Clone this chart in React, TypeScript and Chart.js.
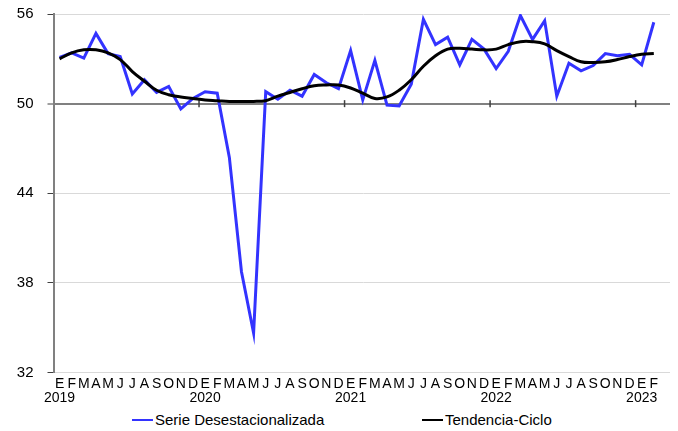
import React, { useEffect, useRef } from "react";
import { Chart, registerables } from "chart.js";

Chart.register(...registerables);

const monthLetters = ["E", "F", "M", "A", "M", "J", "J", "A", "S", "O", "N", "D"];
const years = ["2019", "2020", "2021", "2022", "2023"];
const totalSlots = 51; // 50 months of data + one empty slot at the end

const serieDesestacionalizada = [
  53.1, 53.4, 53.05, 54.7, 53.35, 53.15, 50.65, 51.6, 50.75, 51.15, 49.65, 50.35,
  50.8, 50.7, 46.4, 38.75, 34.65, 50.8, 50.3, 50.9, 50.5, 51.95, 51.4, 51.0,
  53.55, 50.25, 52.9, 49.9, 49.85, 51.3, 55.65, 53.95, 54.45, 52.6, 54.3, 53.65,
  52.35, 53.5, 55.9, 54.3, 55.55, 50.5, 52.7, 52.2, 52.55, 53.35, 53.2, 53.3,
  52.6, 55.45,
];

const tendenciaCiclo = [
  53.0, 53.4, 53.6, 53.6, 53.4, 52.95, 52.15, 51.5, 50.9, 50.6, 50.45, 50.35,
  50.25, 50.2, 50.15, 50.15, 50.15, 50.2, 50.5, 50.75, 51.0, 51.2, 51.25, 51.25,
  51.05, 50.7, 50.35, 50.45, 50.9, 51.6, 52.5, 53.2, 53.65, 53.7, 53.65, 53.6,
  53.65, 53.95, 54.15, 54.15, 54.0, 53.55, 53.15, 52.8, 52.75, 52.8, 52.95, 53.15,
  53.3, 53.35,
];

const yMin = 32;
const yMax = 56;
const yStep = 6;
const axisValue = 50;

const FONT = "'Liberation Sans', Arial, sans-serif";
const BLUE = "#3333ff";

function buildLabels(): string[][] {
  const out: string[][] = [];
  for (let i = 0; i < totalSlots; i++) {
    if (i < serieDesestacionalizada.length) {
      const m = i % 12;
      const y = Math.floor(i / 12);
      out.push([monthLetters[m], m === 0 ? years[y] : ""]);
    } else {
      out.push(["", ""]);
    }
  }
  return out;
}

const yearTicksPlugin = {
  id: "yearTicks",
  beforeDatasetsDraw(chart: any) {
    const xs = chart.scales.x;
    const ys = chart.scales.y;
    const ctx = chart.ctx;
    const y = ys.getPixelForValue(axisValue);
    ctx.save();
    ctx.strokeStyle = "#404040";
    ctx.lineWidth = 1.5;
    for (let i = 12; i < totalSlots; i += 12) {
      const x = (xs.getPixelForValue(i - 1) + xs.getPixelForValue(i)) / 2;
      ctx.beginPath();
      ctx.moveTo(x, y - 3.5);
      ctx.lineTo(x, y + 3.5);
      ctx.stroke();
    }
    ctx.restore();
  },
};

export default function App() {
  const ref = useRef<HTMLCanvasElement | null>(null);

  useEffect(() => {
    if (!ref.current) return;
    const chart = new Chart(ref.current, {
      type: "line",
      data: {
        labels: buildLabels(),
        datasets: [
          {
            label: "Serie Desestacionalizada",
            data: serieDesestacionalizada,
            borderColor: BLUE,
            backgroundColor: BLUE,
            borderWidth: 3,
            pointRadius: 0,
            tension: 0,
            order: 1,
          },
          {
            label: "Tendencia-Ciclo",
            data: tendenciaCiclo,
            borderColor: "#000000",
            backgroundColor: "#000000",
            borderWidth: 3,
            pointRadius: 0,
            tension: 0.4,
            order: 0,
          },
        ],
      },
      options: {
        animation: false,
        responsive: true,
        maintainAspectRatio: false,
        layout: { padding: { top: 8, right: 6, bottom: 0, left: 0 } },
        plugins: {
          legend: { display: false },
          tooltip: { enabled: false },
        },
        scales: {
          x: {
            type: "category",
            offset: true,
            grid: { display: false, drawTicks: false },
            border: { display: false },
            ticks: {
              autoSkip: false,
              maxRotation: 0,
              minRotation: 0,
              padding: 4,
              color: "#000000",
              font: { family: FONT, size: 14, lineHeight: 1.04 },
            },
            afterFit(scale: any) {
              scale.height = 35.4;
            },
          },
          y: {
            min: yMin,
            max: yMax,
            ticks: {
              stepSize: yStep,
              padding: 14,
              color: "#000000",
              font: { family: FONT, size: 15 },
            },
            grid: {
              color: (c: any) => (c.tick && c.tick.value === axisValue ? "#808080" : "#d9d9d9"),
              lineWidth: (c: any) => (c.tick && c.tick.value === axisValue ? 2 : 1),
              tickColor: "#404040",
              tickLength: 6,
              tickWidth: 1,
            },
            border: { display: true, color: "#808080", width: 2 },
            afterFit(scale: any) {
              scale.width = 45.5;
              scale.paddingTop = 0;
              scale.paddingBottom = 0;
            },
          },
        },
      },
      plugins: [yearTicksPlugin],
    });
    return () => chart.destroy();
  }, []);

  const legendText: React.CSSProperties = {
    fontFamily: FONT,
    fontSize: 15,
    color: "#000",
    whiteSpace: "nowrap",
    lineHeight: "16px",
  };

  return (
    <div style={{ position: "relative", top: -2, width: 670, height: 423 }}>
      <div style={{ position: "relative", width: 670, height: 402 }}>
        <canvas ref={ref} />
      </div>
      <div style={{ position: "absolute", left: 124, top: 406, display: "flex", alignItems: "center" }}>
        <span style={{ display: "inline-block", width: 21, height: 2, background: BLUE, marginRight: 2 }} />
        <span style={legendText}>Serie Desestacionalizada</span>
      </div>
      <div style={{ position: "absolute", left: 414, top: 406, display: "flex", alignItems: "center" }}>
        <span style={{ display: "inline-block", width: 21, height: 2, background: "#000", marginRight: 2 }} />
        <span style={legendText}>Tendencia-Ciclo</span>
      </div>
    </div>
  );
}
